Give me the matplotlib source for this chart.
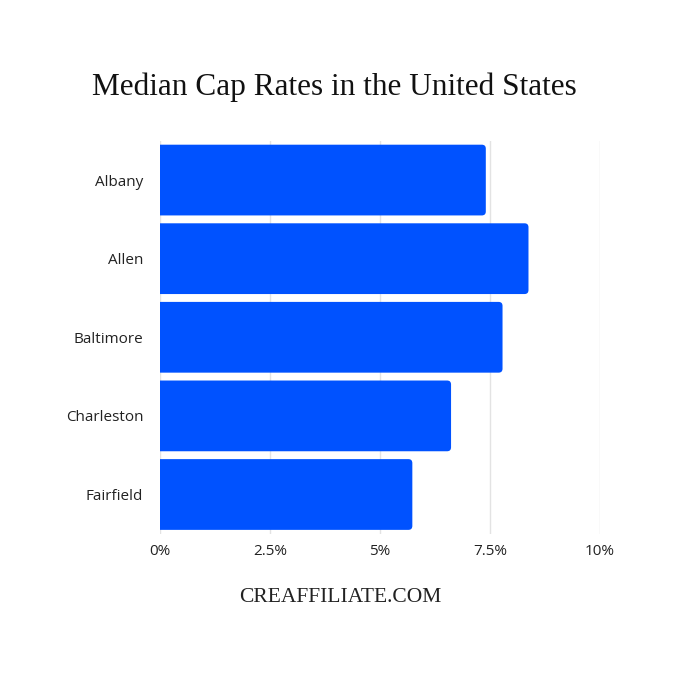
import matplotlib
matplotlib.use("Agg")
import matplotlib.pyplot as plt
from matplotlib.patches import FancyBboxPatch

cities = ["Albany", "Allen", "Baltimore", "Charleston", "Fairfield"]
cap_rates = [7.41, 8.38, 7.79, 6.62, 5.74]
x_ticks = [0, 2.5, 5, 7.5, 10]
x_tick_labels = ["0%", "2.5%", "5%", "7.5%", "10%"]

BLUE = "#0052FF"
SANS = ["Open Sans", "DejaVu Sans"]
SERIF = ["Liberation Serif", "DejaVu Serif"]

fig = plt.figure(figsize=(6.8, 6.8), dpi=100)
ax = fig.add_axes([0.235, 0.215, 0.647, 0.578])

bars = ax.barh(range(len(cities)), cap_rates, height=0.9, color=BLUE, zorder=3)
# swap each bar for a rounded box; left corners start before x=0 and get clipped
for b in bars:
    x, y = b.get_x(), b.get_y()
    w, h = b.get_width(), b.get_height()
    b.set_visible(False)
    ax.add_patch(FancyBboxPatch((x - 0.3, y), w + 0.3, h,
                                boxstyle="round,pad=0,rounding_size=0.09",
                                mutation_aspect=0.56, facecolor=BLUE,
                                edgecolor="none", zorder=3))

ax.set_xlim(0, 10)
ax.set_ylim(4.5, -0.5)
ax.set_xticks(x_ticks)
ax.set_xticklabels(x_tick_labels, fontsize=11, family=SANS, color="#222222")
ax.set_yticks(range(len(cities)))
ax.set_yticklabels(cities, fontsize=11, family=SANS, color="#222222")
ax.tick_params(length=0)
ax.tick_params(axis="y", pad=12)
ax.tick_params(axis="x", pad=7)
for sp in ax.spines.values():
    sp.set_visible(False)
ax.grid(axis="x", color="#e3e3e3", linewidth=1, zorder=0)
ax.set_axisbelow(True)

fig.text(0.492, 0.872, "Median Cap Rates in the United States",
         ha="center", va="center", fontsize=22.5, family=SERIF, color="#111111")
fig.text(0.5, 0.122, "CREAFFILIATE.COM",
         ha="center", va="center", fontsize=15.5, family=SERIF, color="#222222")

fig.savefig("out.png", dpi=100, facecolor="white")
